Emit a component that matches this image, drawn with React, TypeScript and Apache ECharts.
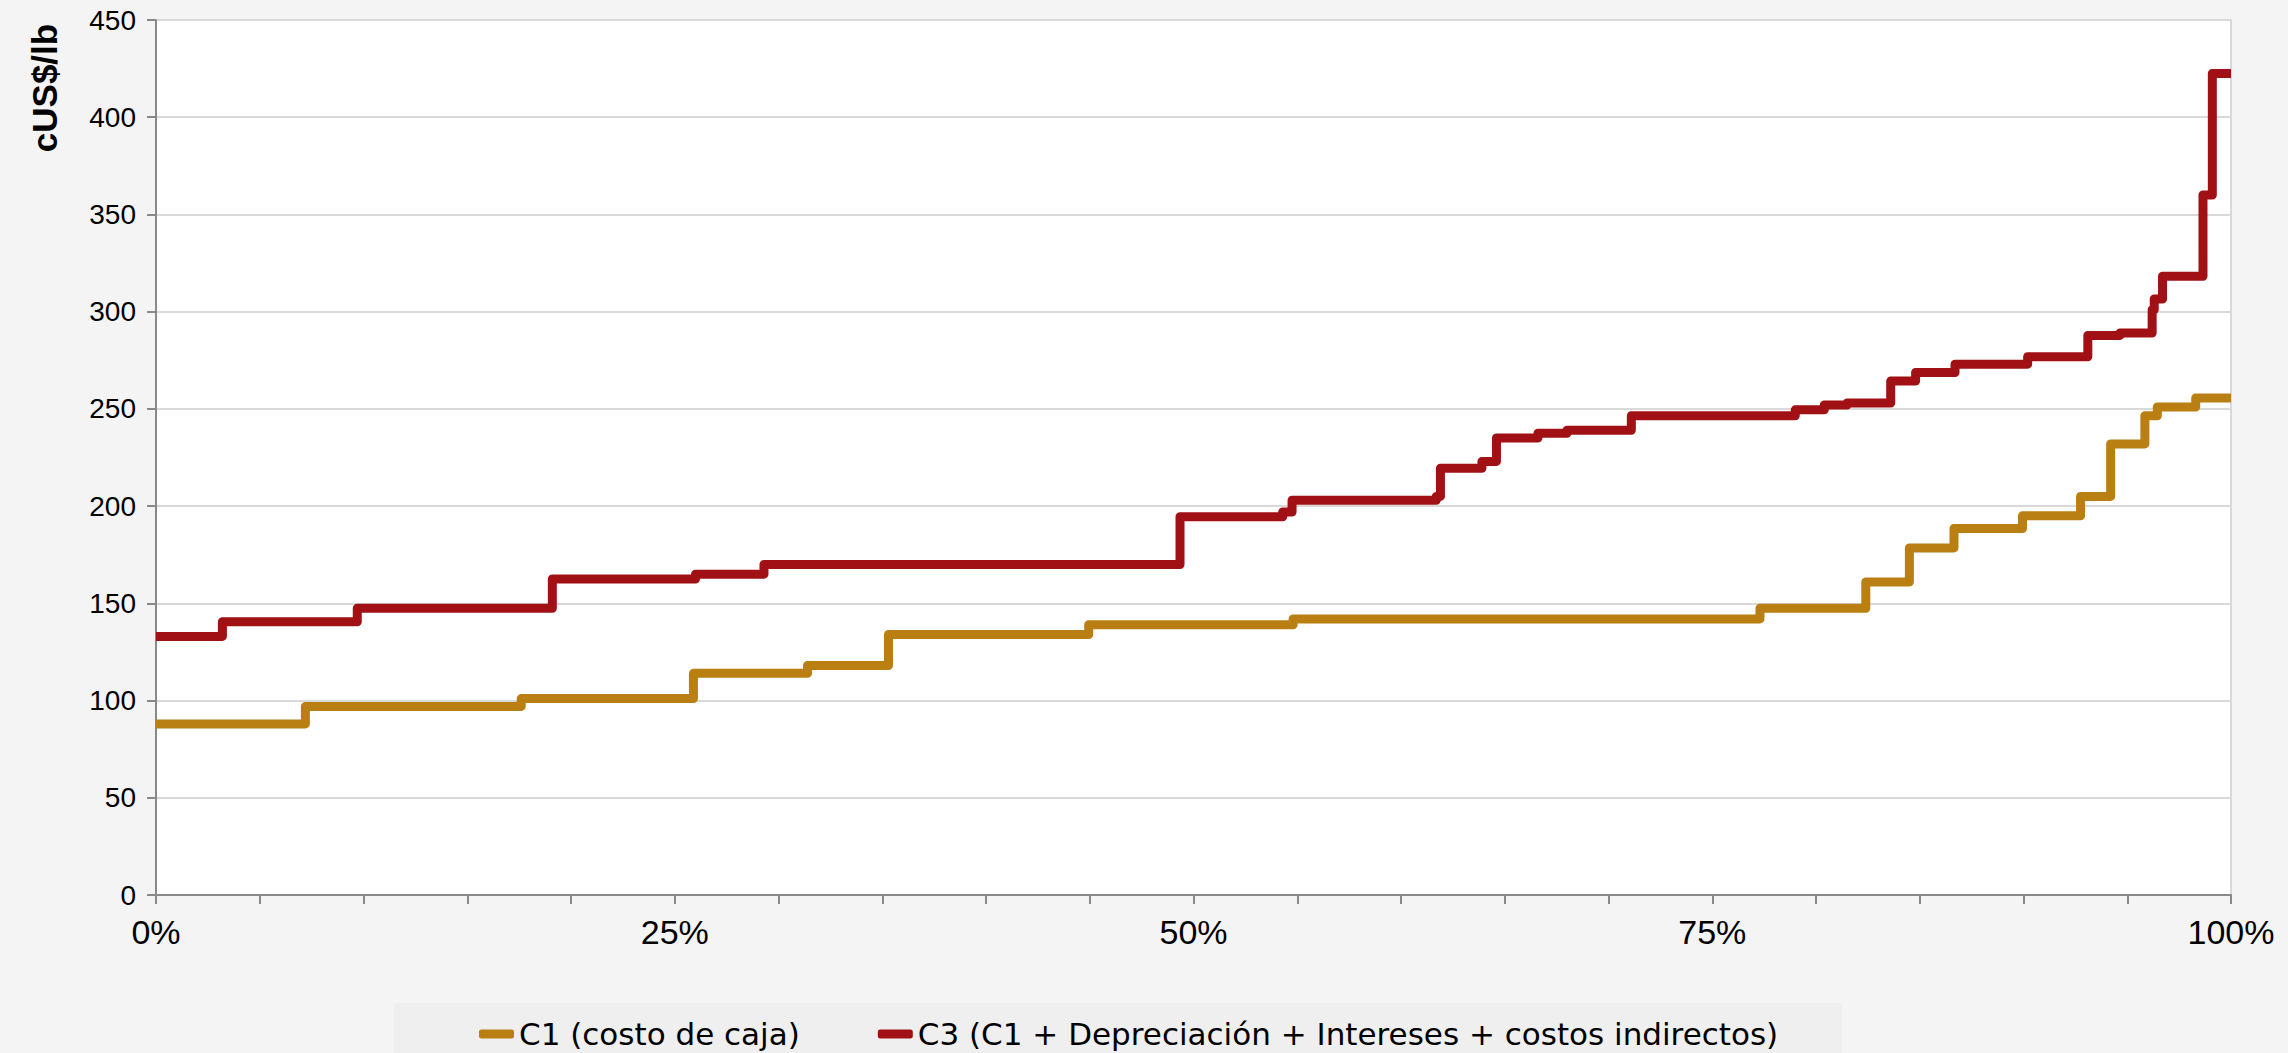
import React, { useEffect, useRef } from "react";
import * as echarts from "echarts";

// C1 (costo de caja): start of each step (% of production) and its value (cUS$/lb)
const c1Start = [0, 7.2, 17.6, 25.9, 31.4, 35.3, 44.95, 54.8, 77.3, 82.4, 84.5, 86.65, 89.95, 92.75, 94.2, 95.85, 96.45, 98.3];
const c1Values = [88, 97, 101, 114, 118, 134, 139, 142, 147.5, 161, 178.5, 188.5, 195, 205, 232, 246.5, 251, 255.6];

// C3 (C1 + Depreciación + Intereses + costos indirectos)
const c3Start = [0, 3.2, 9.7, 19.1, 26.0, 29.3, 49.35, 54.3, 54.75, 61.7, 61.9, 63.9, 64.6, 66.6, 68.0, 71.1, 79.0, 80.4, 81.5, 83.6, 84.8, 86.7, 90.2, 93.1, 94.65, 96.2, 96.3, 96.7, 98.65, 99.1];
const c3Values = [133, 140.5, 147.5, 162.5, 165, 170, 194.5, 197, 203, 205, 219.5, 223, 235, 237.5, 239, 246.5, 249.5, 252, 253, 264.3, 268.7, 273, 276.8, 287.8, 289, 301, 306.5, 318.2, 360, 422.5];

const seriesNames = ["C1 (costo de caja)", "C3 (C1 + Depreciación + Intereses + costos indirectos)"];
const xLabelEvery = 25;
const yTicks = { min: 0, max: 450, interval: 50 };

function buildSteps(starts: number[], values: number[]) {
  const pts = starts.map((s, i) => [s, values[i]]);
  pts.push([100, values[values.length - 1]]);
  return pts;
}

export default function App() {
  const ref = useRef<HTMLDivElement>(null);
  useEffect(() => {
    if (!ref.current) return;
    const chart = echarts.init(ref.current, undefined, { renderer: "svg" });
    const axisColor = "#898989";
    chart.setOption({
      animation: false,
      backgroundColor: "#F4F4F4",
      grid: {
        left: 156,
        right: 57,
        top: 20,
        bottom: 158,
        show: true,
        backgroundColor: "#FFFFFF",
        borderColor: "#D9D9D9",
        borderWidth: 2,
      },
      graphic: [
        {
          type: "rect",
          silent: true,
          z: -1,
          shape: { x: 394, y: 1003, width: 1448, height: 50 },
          style: { fill: "#EFEFEF" },
        },
        {
          type: "text",
          x: 44,
          y: 88,
          rotation: Math.PI / 2,
          style: {
            text: "cUS$/lb",
            font: "bold 35px 'Liberation Sans', Arial, sans-serif",
            fill: "#000000",
            textAlign: "center",
            textVerticalAlign: "middle",
          },
        },
      ],
      legend: {
        left: 479,
        top: 1018,
        padding: 0,
        itemGap: 78,
        itemWidth: 35,
        itemHeight: 9,
        icon: "roundRect",
        textStyle: {
          fontFamily: "'DejaVu Sans', sans-serif",
          fontSize: 31,
          color: "#000000",
          lineHeight: 32,
        },
        data: seriesNames,
      },
      xAxis: {
        type: "value",
        min: 0,
        max: 100,
        interval: 5,
        axisLine: { show: true, lineStyle: { color: axisColor, width: 2 } },
        axisTick: { show: true, length: 9, lineStyle: { color: axisColor, width: 2 } },
        splitLine: { show: false },
        axisLabel: {
          margin: 20,
          fontFamily: "'Liberation Sans', Arial, sans-serif",
          fontSize: 34,
          color: "#000000",
          formatter: (v: number) => (v % xLabelEvery === 0 ? `${v}%` : ""),
        },
      },
      yAxis: {
        type: "value",
        min: yTicks.min,
        max: yTicks.max,
        interval: yTicks.interval,
        axisLine: { show: true, lineStyle: { color: axisColor, width: 2 } },
        axisTick: { show: true, length: 9, lineStyle: { color: axisColor, width: 2 } },
        splitLine: { show: true, lineStyle: { color: "#D9D9D9", width: 2 } },
        axisLabel: {
          margin: 20,
          fontFamily: "'Liberation Sans', Arial, sans-serif",
          fontSize: 28,
          color: "#000000",
        },
      },
      series: [
        {
          name: seriesNames[0],
          type: "line",
          step: "end",
          showSymbol: false,
          symbol: "none",
          color: "#BA7F12",
          lineStyle: { width: 9, color: "#BA7F12", join: "round" },
          data: buildSteps(c1Start, c1Values),
        },
        {
          name: seriesNames[1],
          type: "line",
          step: "end",
          showSymbol: false,
          symbol: "none",
          color: "#A11014",
          lineStyle: { width: 9, color: "#A11014", join: "round" },
          data: buildSteps(c3Start, c3Values),
        },
      ],
    });
    return () => chart.dispose();
  }, []);
  return (
    <div
      ref={ref}
      style={{ position: "fixed", left: 0, top: 0, width: 2288, height: 1053 }}
    />
  );
}
